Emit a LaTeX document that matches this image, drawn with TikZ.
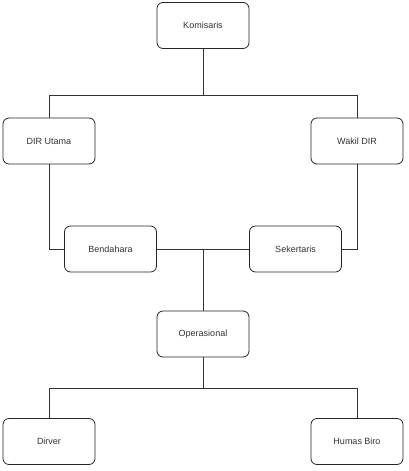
\documentclass[tikz,border=0pt]{standalone}
\usepackage{fontspec}
\setmainfont{Liberation Sans}
\begin{document}
\begin{tikzpicture}[x=1pt,y=-1pt,
  box/.style={draw=black!85, line width=0.8pt, rounded corners=6pt, minimum width=92pt, minimum height=46pt, inner sep=0pt, font=\fontsize{9}{10}\selectfont, text=black!80},
  conn/.style={draw=black!80, line width=0.8pt}]
\useasboundingbox[fill=white] (0,0) rectangle (408,471);
\node[box] (kom) at (203,25.5) {Komisaris};
\node[box] (dir) at (49,141) {DIR Utama};
\node[box] (wak) at (357,141) {Wakil DIR};
\node[box] (ben) at (110.5,249) {Bendahara};
\node[box] (sek) at (295.5,249) {Sekertaris};
\node[box] (ops) at (203,334) {Operasional};
\node[box] (drv) at (49,441.5) {Dirver};
\node[box] (hum) at (357,441.5) {Humas Biro};
\coordinate (j1) at (203,95);
\coordinate (j2) at (203,249);
\coordinate (j3) at (203,388);
\draw[conn] (kom.south) -- (j1);
\draw[conn] (j1) -| (dir.north);
\draw[conn] (j1) -| (wak.north);
\draw[conn] (dir.south) |- (ben.west);
\draw[conn] (wak.south) |- (sek.east);
\draw[conn] (ben.east) -- (sek.west);
\draw[conn] (j2) -- (ops.north);
\draw[conn] (ops.south) -- (j3);
\draw[conn] (j3) -| (drv.north);
\draw[conn] (j3) -| (hum.north);
\end{tikzpicture}
\end{document}
